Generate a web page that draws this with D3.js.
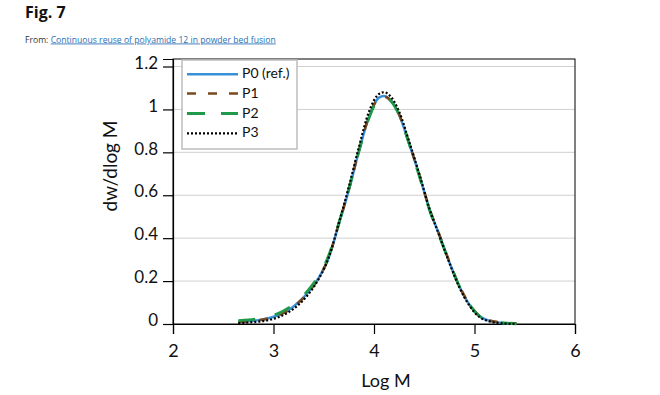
<!DOCTYPE html>
<html>
<head>
<meta charset="utf-8">
<script src="https://cdn.jsdelivr.net/npm/d3@7"></script>
<style>
  html, body { margin: 0; padding: 0; background: #fff; }
  svg { display: block; }
</style>
</head>
<body>
<svg id="chart" width="660" height="395"></svg>
<script>
// ---- data ----
const logM = [2.65, 2.75, 2.85, 2.95, 3.05, 3.15, 3.25, 3.35, 3.45, 3.55, 3.65, 3.75, 3.85, 3.95, 4.05, 4.10, 4.15, 4.25, 4.35, 4.45, 4.55, 4.65, 4.75, 4.85, 4.95, 5.05, 5.15, 5.25, 5.35, 5.42];
const p0 = [0.010, 0.013, 0.018, 0.027, 0.042, 0.065, 0.102, 0.150, 0.215, 0.310, 0.465, 0.625, 0.805, 0.965, 1.055, 1.062, 1.050, 0.975, 0.840, 0.695, 0.538, 0.415, 0.288, 0.175, 0.090, 0.036, 0.015, 0.006, 0.002, 0.001];
const p1 = [0.009, 0.012, 0.017, 0.026, 0.041, 0.064, 0.100, 0.149, 0.214, 0.312, 0.468, 0.628, 0.808, 0.966, 1.054, 1.060, 1.049, 0.976, 0.842, 0.697, 0.540, 0.416, 0.290, 0.177, 0.091, 0.037, 0.016, 0.008, 0.004, 0.002];
const p2 = [0.016, 0.019, 0.025, 0.034, 0.050, 0.075, 0.110, 0.160, 0.225, 0.320, 0.470, 0.630, 0.805, 0.960, 1.050, 1.058, 1.048, 0.975, 0.840, 0.690, 0.535, 0.410, 0.288, 0.175, 0.090, 0.037, 0.016, 0.007, 0.003, 0.001];
const p3 = [0.004, 0.007, 0.011, 0.018, 0.032, 0.055, 0.090, 0.140, 0.210, 0.310, 0.470, 0.640, 0.825, 0.990, 1.072, 1.080, 1.068, 0.990, 0.850, 0.700, 0.540, 0.412, 0.285, 0.170, 0.085, 0.032, 0.012, 0.004, 0.001, 0.000];
const seriesNames = ["P0 (ref.)", "P1", "P2", "P3"];
const xTicks = [2, 3, 4, 5, 6];
const yTicks = [0, 0.2, 0.4, 0.6, 0.8, 1, 1.2];
const yTickLabels = ["0", "0.2", "0.4", "0.6", "0.8", "1", "1.2"];
const xLabel = "Log M";
const yLabel = "dw/dlog M";
const figTitle = "Fig. 7";
const fromLabel = "From: ";
const linkLabel = "Continuous reuse of polyamide 12 in powder bed fusion";

// ---- styles ----
const styles = [
  { color: "#3a8fd9", dash: null, width: 2.5 },
  { color: "#7a4a1c", dash: "9,12", width: 2.6 },
  { color: "#1f9a48", dash: "17,20", width: 2.8 },
  { color: "#000000", dash: "2,2", width: 2.2 }
];
const seriesVals = [p0, p1, p2, p3];

const svg = d3.select("#chart");
const FONT = "Lato, 'Open Sans', sans-serif";

// header
svg.append("text").attr("x", 25).attr("y", 17.5)
  .attr("font-family", "'Open Sans', sans-serif").attr("font-weight", 700).attr("font-size", 16)
  .attr("fill", "#111").text(figTitle);
const sub = svg.append("text").attr("x", 25).attr("y", 42.5)
  .attr("font-family", "'Open Sans', sans-serif").attr("font-size", 9.5);
sub.append("tspan").attr("fill", "#333").text(fromLabel);
sub.append("tspan").attr("fill", "#2c6fb3").attr("text-decoration", "underline").text(linkLabel);
const w = sub.node().getComputedTextLength();
if (w > 0) sub.attr("font-size", 9.5 * 251 / w);

// scales
const x = d3.scaleLinear().domain([2, 6]).range([173, 575]);
const y = d3.scaleLinear().domain([0, 1.235]).range([324, 59]);

// gridlines
svg.append("g").selectAll("line").data(yTicks.filter(d => d > 0)).join("line")
  .attr("x1", x(2)).attr("x2", x(6))
  .attr("y1", d => y(d)).attr("y2", d => y(d))
  .attr("stroke", "#d0d0d0").attr("stroke-width", 1);

// frame
svg.append("rect").attr("x", x(2)).attr("y", y(1.235))
  .attr("width", x(6) - x(2)).attr("height", y(0) - y(1.235))
  .attr("fill", "none").attr("stroke", "#000").attr("stroke-width", 1);

// y axis
const yAxis = d3.axisLeft(y).tickValues(yTicks).tickSize(10).tickPadding(5)
  .tickFormat((d, i) => yTickLabels[i]);
const gy = svg.append("g").attr("transform", `translate(${x(2)},0)`).call(yAxis);
gy.select(".domain").attr("stroke", "#000").attr("stroke-width", 1.2);
gy.selectAll(".tick line").attr("stroke", "#000").attr("stroke-width", 1.2);
gy.selectAll(".tick text").attr("font-family", FONT).attr("font-size", 17)
  .attr("fill", "#111").attr("dy", "0.1em");

// x axis
const xAxis = d3.axisBottom(x).tickValues(xTicks).tickSize(10).tickPadding(10)
  .tickFormat(d3.format("d"));
const gx = svg.append("g").attr("transform", `translate(0,${y(0)})`).call(xAxis);
gx.select(".domain").attr("stroke", "#000").attr("stroke-width", 1.2);
gx.selectAll(".tick line").attr("stroke", "#000").attr("stroke-width", 1.2);
gx.selectAll(".tick text").attr("font-family", FONT).attr("font-size", 18)
  .attr("fill", "#111");

// axis titles
svg.append("text").attr("x", 386).attr("y", 386.5).attr("text-anchor", "middle")
  .attr("font-family", FONT).attr("font-size", 18).attr("fill", "#111").text(xLabel);
svg.append("text").attr("transform", "translate(117,166) rotate(-90)")
  .attr("text-anchor", "middle")
  .attr("font-family", FONT).attr("font-size", 19).attr("fill", "#111").text(yLabel);

// curves
const line = d3.line().x(d => x(d[0])).y(d => y(d[1])).curve(d3.curveMonotoneX);
seriesVals.forEach((vals, i) => {
  const pts = logM.map((m, j) => [m, vals[j]]);
  svg.append("path").datum(pts).attr("d", line)
    .attr("fill", "none").attr("stroke", styles[i].color)
    .attr("stroke-width", styles[i].width)
    .attr("stroke-dasharray", styles[i].dash);
});

// legend
const lg = svg.append("g");
lg.append("rect").attr("x", 182).attr("y", 60).attr("width", 115).attr("height", 89)
  .attr("fill", "#fff").attr("stroke", "#bdbdbd").attr("stroke-width", 1.5);
const legY = [74.3, 93.5, 113.5, 133.3];
seriesNames.forEach((name, i) => {
  lg.append("line").attr("x1", 187).attr("x2", 238)
    .attr("y1", legY[i]).attr("y2", legY[i])
    .attr("stroke", styles[i].color).attr("stroke-width", styles[i].width)
    .attr("stroke-dasharray", i === 2 ? "18,16" : styles[i].dash);
  lg.append("text").attr("x", 242).attr("y", legY[i] + 4)
    .attr("font-family", FONT).attr("font-size", 14).attr("fill", "#111").text(name);
});
</script>
</body>
</html>
